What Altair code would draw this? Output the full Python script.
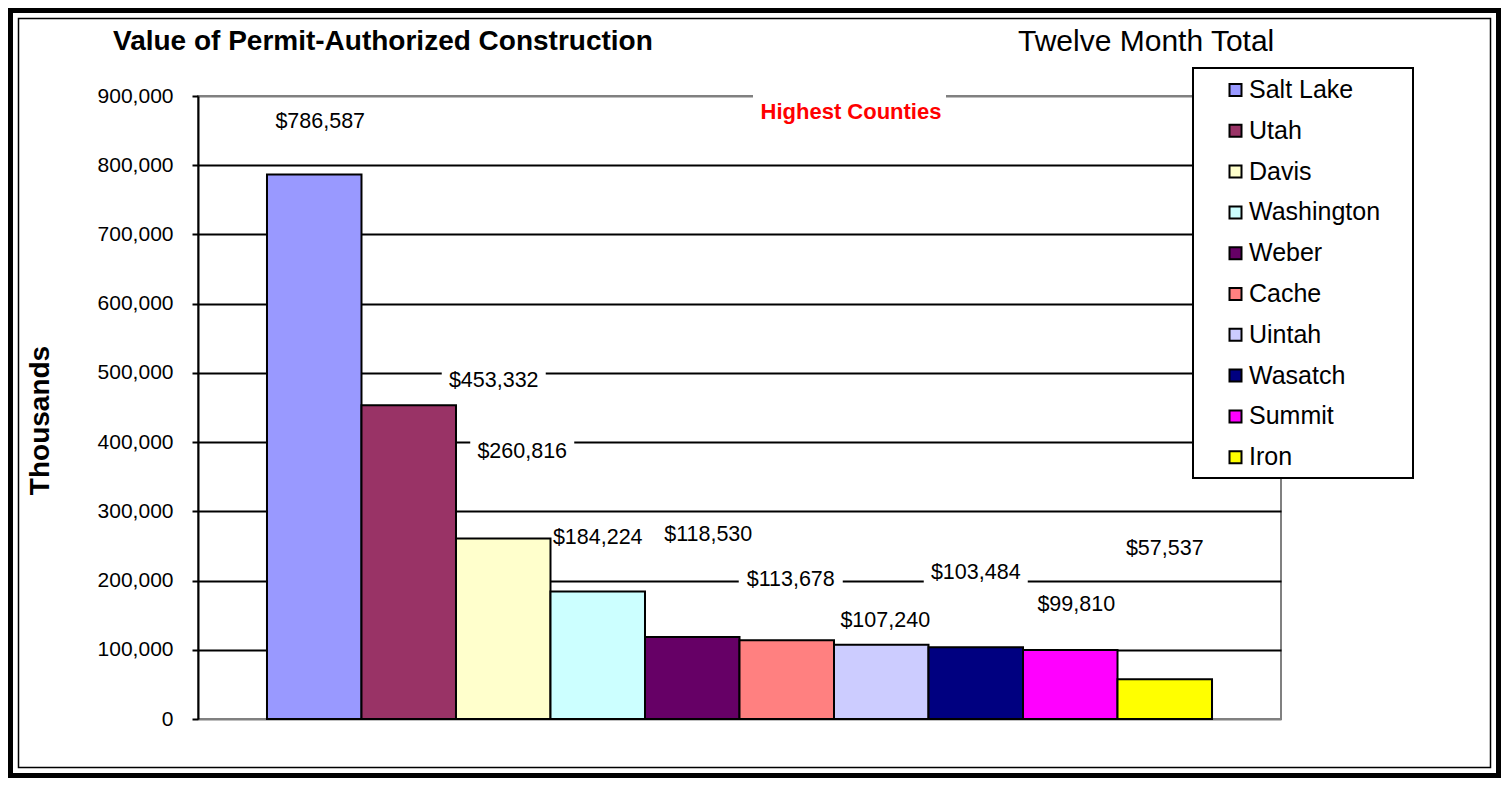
import altair as alt
import pandas as pd

# ---- data ----
counties = ["Salt Lake", "Utah", "Davis", "Washington", "Weber",
            "Cache", "Uintah", "Wasatch", "Summit", "Iron"]
values = [786587, 453332, 260816, 184224, 118530,
          113678, 107240, 103484, 99810, 57537]
# where each value label sits (in axis units), as placed in the original
label_y = [863000, 487600, 386400, 261500, 265800,
           200800, 140900, 210200, 164700, 245600]
colors = ["#9999FF", "#993366", "#FFFFCC", "#CCFFFF", "#660066",
          "#FF8080", "#CCCCFF", "#000080", "#FF00FF", "#FFFF00"]
y_ticks = [0, 100000, 200000, 300000, 400000, 500000, 600000, 700000, 800000, 900000]

df = pd.DataFrame({"county": counties, "value": values, "label_y": label_y})
one = pd.DataFrame({"a": [0]})

FONT = "Liberation Sans"
W, H = 1083, 623
PAD = {"left": 190, "top": 88, "right": 220, "bottom": 59}

x_enc = alt.X("county:N", sort=counties,
              scale=alt.Scale(domain=counties, paddingInner=0, paddingOuter=0.73),
              axis=None)

y_axis = alt.Axis(
    values=y_ticks, format=",d", title="Thousands",
    titleFont=FONT, titleFontSize=28, titleFontWeight="bold", titleColor="black",
    titleAngle=270, titleX=-158, titleY=324, titleAlign="center", titleBaseline="middle",
    labelFont=FONT, labelFontSize=21, labelColor="black", labelPadding=19,
    tickSize=6, tickColor="black", tickWidth=2,
    domainColor="black", domainWidth=2,
    grid=True, gridWidth=2,
    gridColor={"condition": {"test": "datum.value === 0 || datum.value === 900000",
                             "value": "#808080"},
               "value": "black"},
)
y_scale = alt.Scale(domain=[0, 900000], nice=False, zero=True)


def Y(field):
    return alt.Y(field, scale=y_scale, axis=y_axis)


bars = alt.Chart(df).mark_bar(stroke="black", strokeWidth=2, opacity=1).encode(
    x=x_enc,
    y=Y("value:Q"),
    color=alt.Color(
        "county:N", sort=counties,
        scale=alt.Scale(domain=counties, range=colors),
        legend=alt.Legend(
            title=None, orient="none", legendX=1025, legendY=-18.5,
            labelFont=FONT, labelFontSize=25, labelColor="black", labelOffset=1,
            symbolType="square", symbolSize=144, symbolStrokeColor="black",
            symbolStrokeWidth=2, symbolOpacity=1, rowPadding=14.8, padding=0,
        ),
    ),
)

# label layers: most labels sit over their bar; a few are shifted sideways
shift_groups = [
    (0, ["Washington", "Wasatch", "Iron"]),
    (6, ["Salt Lake", "Summit"]),
    (4, ["Cache", "Uintah"]),
    (85, ["Utah"]),
    (19, ["Davis"]),
    (16, ["Weber"]),
]

HALF = 52  # half width of a label's white box, px


def box_shape(dx):
    u = dx / HALF
    return f"M{-1 + u:.4f},-0.31H{1 + u:.4f}V0.31H{-1 + u:.4f}Z"


box_layers = []
text_layers = []
for dx, names in shift_groups:
    base = alt.Chart(df).transform_filter(alt.FieldOneOfPredicate(field="county", oneOf=names))
    box_layers.append(
        base.mark_point(shape=box_shape(dx), size=(2 * HALF) ** 2, filled=True,
                        color="white", opacity=1, strokeWidth=0)
        .encode(x=x_enc, y=Y("label_y:Q"))
    )
    text_layers.append(
        base.mark_text(font=FONT, fontSize=21.5, color="black", align="center",
                       baseline="middle", dx=dx)
        .encode(x=x_enc, y=Y("label_y:Q"),
                text=alt.Text("value:Q", format="$,d"))
    )

hc_box = alt.Chart(one).mark_rect(color="white", opacity=1).encode(
    x=alt.value(555), x2=alt.value(748), y=alt.value(-8), y2=alt.value(36))
hc_text = alt.Chart(one).mark_text(
    text="Highest Counties", font=FONT, fontSize=22, fontWeight="bold",
    color="#FF0000", align="center", baseline="middle").encode(
    x=alt.value(653), y=alt.value(16))

legend_box = alt.Chart(one).mark_rect(color="white", stroke="black", strokeWidth=2,
                                      opacity=1).encode(
    x=alt.value(995), x2=alt.value(1215), y=alt.value(-28), y2=alt.value(382))

title_text = alt.Chart(one).mark_text(
    text="Value of Permit-Authorized Construction", font=FONT, fontSize=28,
    fontWeight="bold", color="black", align="left", baseline="middle").encode(
    x=alt.value(-85), y=alt.value(-54))
sub_text = alt.Chart(one).mark_text(
    text="Twelve Month Total", font=FONT, fontSize=30, color="black",
    align="left", baseline="middle").encode(
    x=alt.value(820), y=alt.value(-54))

frame_outer = alt.Chart(one).mark_rect(filled=False, stroke="black", strokeWidth=5).encode(
    x=alt.value(-187.5), x2=alt.value(1300.5), y=alt.value(-85.5), y2=alt.value(679.5))
frame_inner = alt.Chart(one).mark_rect(filled=False, stroke="black", strokeWidth=1.5).encode(
    x=alt.value(-179.5), x2=alt.value(1292.5), y=alt.value(-77.5), y2=alt.value(671.5))

chart = alt.layer(
    *box_layers, bars, *text_layers, hc_box, hc_text, legend_box,
    title_text, sub_text, frame_outer, frame_inner,
).properties(
    width=W, height=H, padding=PAD,
    autosize=alt.AutoSizeParams(type="none"),
    background="white",
).configure_view(stroke="#808080", strokeWidth=2)

chart.save("out.html", embed_options={"renderer": "svg", "actions": False})
